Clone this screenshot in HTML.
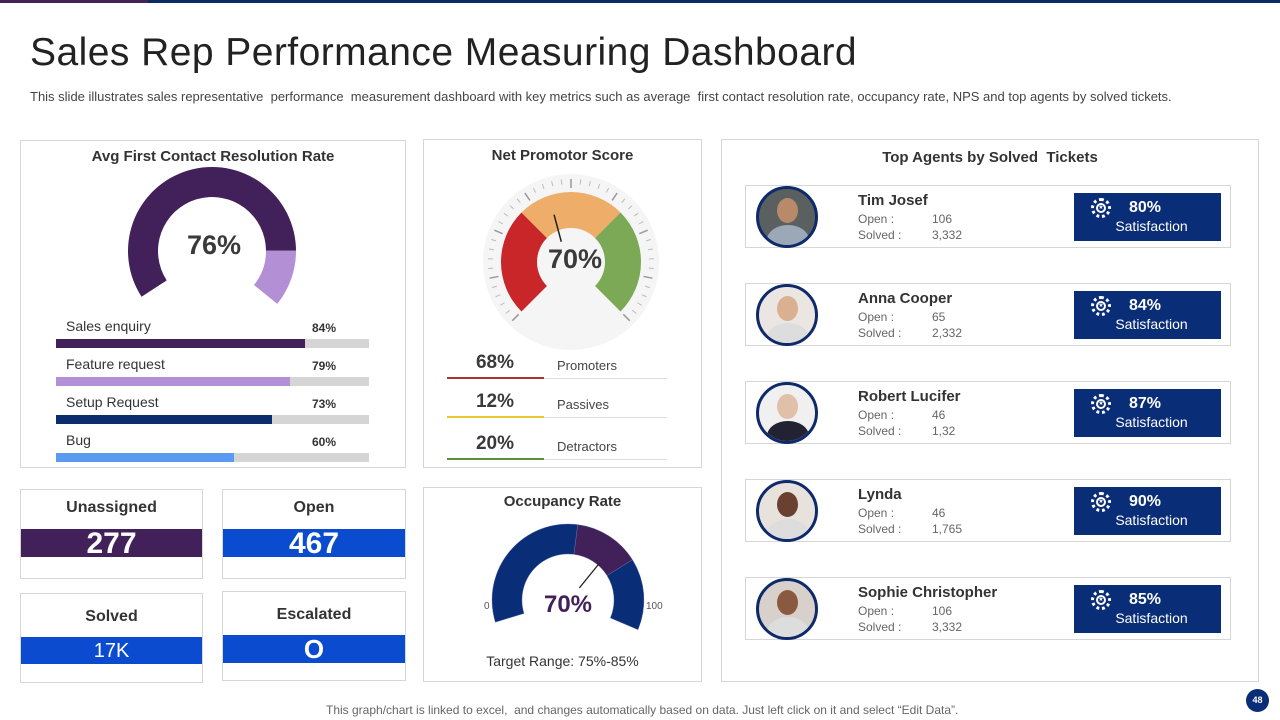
<!DOCTYPE html>
<html><head><meta charset="utf-8">
<style>
*{box-sizing:border-box;margin:0;padding:0}
body{width:1280px;height:720px;background:#fff;position:relative;overflow:hidden;font-family:"Liberation Sans",sans-serif;color:#333}
.abs{position:absolute}
.box{position:absolute;border:1px solid #d6d6d6;background:#fff}
.ttl{position:absolute;left:0;right:0;text-align:center;font-weight:bold;font-size:15px;color:#333}
.lbl{position:absolute;font-size:14px;color:#333}
.pct{position:absolute;font-size:12px;font-weight:bold;color:#333}
.track{position:absolute;height:9px;background:#d5d5d5}
.fill{position:absolute;left:0;top:0;height:9px}
.kpi-band{position:absolute;left:0;right:0;color:#fff;text-align:center;font-weight:bold}
.card{position:absolute;left:745px;width:486px;height:63px;border:1px solid #d6d6d6;background:#fff}
.av{position:absolute;left:10px;top:0px;width:62px;height:62px;border-radius:50%;border:3px solid #0f2a6b;overflow:hidden}
.nm{position:absolute;left:112px;top:6px;font-size:15px;font-weight:bold;color:#333}
.st{position:absolute;left:112px;font-size:12px;color:#666}
.sv{position:absolute;left:186px;font-size:12px;color:#666}
.badge{position:absolute;left:328px;top:7px;width:147px;height:48px;background:#0a2d78;color:#fff}
</style></head><body>
<div class="abs" style="left:0;top:0;width:148px;height:3px;background:#42245a"></div>
<div class="abs" style="left:148px;top:0;width:1132px;height:3px;background:#0a2a64"></div>
<div class="abs" style="left:30px;top:31px;font-size:39px;color:#222;letter-spacing:0.45px">Sales Rep Performance Measuring Dashboard</div>
<div class="abs" style="left:30px;top:89px;font-size:13px;color:#444">This slide illustrates sales representative&nbsp; performance&nbsp; measurement dashboard with key metrics such as average&nbsp; first contact resolution rate, occupancy rate, NPS and top agents by solved tickets.</div>

<!-- FCR panel -->
<div class="box" style="left:20px;top:140px;width:386px;height:328px">
  <div class="ttl" style="top:7px">Avg First Contact Resolution Rate</div>
</div>
<svg class="abs" id="fcrSvg" style="left:0;top:0" width="1280" height="720"></svg>
<div class="abs" id="fcrVal" style="left:162px;top:230px;width:104px;text-align:center;font-size:27px;font-weight:bold;color:#3a3a3a">76%</div>
<div id="fcrBars"></div>

<!-- NPS panel -->
<div class="box" style="left:423px;top:139px;width:279px;height:329px">
  <div class="ttl" style="top:7px">Net Promotor Score</div>
</div>
<svg class="abs" id="npsSvg" style="left:0;top:0" width="1280" height="720"></svg>
<div class="abs" style="left:530px;top:244px;width:90px;text-align:center;font-size:27px;font-weight:bold;color:#3a3a3a">70%</div>
<div id="npsLegend"></div>

<!-- KPI tiles -->
<div class="box" style="left:20px;top:489px;width:183px;height:90px">
  <div class="ttl" style="top:9px;font-size:16px">Unassigned</div>
  <div class="kpi-band" style="top:39px;height:28px;line-height:30px;background:#42215a;font-size:30px">277</div>
</div>
<div class="box" style="left:222px;top:489px;width:184px;height:90px">
  <div class="ttl" style="top:9px;font-size:16px">Open</div>
  <div class="kpi-band" style="top:39px;height:28px;line-height:30px;background:#0a4bd0;font-size:30px">467</div>
</div>
<div class="box" style="left:20px;top:593px;width:183px;height:90px">
  <div class="ttl" style="top:14px;font-size:16px">Solved</div>
  <div class="kpi-band" style="top:43px;height:27px;line-height:28px;background:#0a4bd0;font-size:20px;font-weight:normal">17K</div>
</div>
<div class="box" style="left:222px;top:591px;width:184px;height:90px">
  <div class="ttl" style="top:14px;font-size:16px">Escalated</div>
  <div class="kpi-band" style="top:43px;height:28px;line-height:29px;background:#0a4bd0;font-size:26px">O</div>
</div>

<!-- Occupancy -->
<div class="box" style="left:423px;top:487px;width:279px;height:195px">
  <div class="ttl" style="top:5px">Occupancy Rate</div>
  <div class="abs" style="left:0;right:0;top:165px;text-align:center;font-size:14px;color:#333">Target Range: 75%-85%</div>
  <div class="abs" style="left:60px;top:113px;font-size:10px;color:#555">0</div>
  <div class="abs" style="left:222px;top:113px;font-size:10px;color:#555">100</div>
</div>
<svg class="abs" id="occSvg" style="left:0;top:0" width="1280" height="720"></svg>
<div class="abs" style="left:528px;top:591px;width:80px;text-align:center;font-size:24px;font-weight:bold;color:#42215a">70%</div>

<!-- Agents -->
<div class="box" style="left:721px;top:139px;width:538px;height:543px">
  <div class="ttl" style="top:9px">Top Agents by Solved&nbsp; Tickets</div>
</div>
<div id="agents"></div>

<div class="abs" style="left:326px;top:703px;font-size:12px;color:#666">This graph/chart is linked to excel,&nbsp; and changes automatically based on data. Just left click on it and select “Edit Data”.</div>
<div class="abs" style="left:1246px;top:689px;width:23px;height:23px;border-radius:50%;background:#0a2d78;color:#fff;font-size:9px;font-weight:bold;text-align:center;line-height:23px">48</div>

<script>
// ---- data ----
const fcrValue = 76;
const fcrTarget = 90;
const fcrCats = ["Sales enquiry","Feature request","Setup Request","Bug"];
const fcrVals = [84,79,73,60];
const fcrColors = ["#42215a","#b38fd6","#0a2d6e","#5b9af0"];
const npsValue = 70;
const npsLabels = ["Promoters","Passives","Detractors"];
const npsVals = [68,12,20];
const npsLineColors = ["#b03030","#e8c830","#5b8f3a"];
const occValue = 70;
const occBreaks = [0,52,75,100];
const agentNames = ["Tim Josef","Anna Cooper","Robert Lucifer","Lynda","Sophie Christopher"];
const agentOpen = ["106","65","46","46","106"];
const agentSolved = ["3,332","2,332","1,32","1,765","3,332"];
const agentSat = [80,84,87,90,85];

const NS="http://www.w3.org/2000/svg";
function mk(svg,tag,attrs,name){const e=document.createElementNS(NS,tag);for(const k in attrs)e.setAttribute(k,attrs[k]);


svg.appendChild(e);return e;}
function pt(cx,cy,r,a){const t=a*Math.PI/180;return [cx+r*Math.sin(t),cy-r*Math.cos(t)];}
function arc(cx,cy,r0,r1,a0,a1){const p1=pt(cx,cy,r1,a0),p2=pt(cx,cy,r1,a1),p3=pt(cx,cy,r0,a1),p4=pt(cx,cy,r0,a0);const lg=(a1-a0)>180?1:0;
return `M${p1}A${r1},${r1} 0 ${lg} 1 ${p2}L${p3}A${r0},${r0} 0 ${lg} 0 ${p4}Z`;}

// FCR donut
const fs=document.getElementById('fcrSvg');
const fA=v=>-123+v*2.8;
mk(fs,'path',{d:arc(212,251,54,84,fA(0),fA(fcrValue)),fill:"#42215a"},'fcr-arc-value');
mk(fs,'path',{d:arc(212,251,54,84,fA(fcrValue),fA(fcrTarget)),fill:"#b38fd6"},'fcr-arc-remainder');
// bars
const fb=document.getElementById('fcrBars');
fcrCats.forEach((c,i)=>{const y=318+i*38;
 const l=document.createElement('div');l.className='lbl';l.style.left='66px';l.style.top=y+'px';l.textContent=c;
 
 
 fb.appendChild(l);
 const p=document.createElement('div');p.className='pct';p.style.left='312px';p.style.top=(y+3)+'px';p.textContent=fcrVals[i]+'%';
 
 
 fb.appendChild(p);
 const t=document.createElement('div');t.className='track';t.style.left='56px';t.style.top=(y+21)+'px';t.style.width='313px';
 
 
 const f=document.createElement('div');f.className='fill';f.style.width=(fcrVals[i]*2.96)+'px';f.style.background=fcrColors[i];
 
 
 t.appendChild(f);fb.appendChild(t);
});

// NPS gauge
const ns=document.getElementById('npsSvg');const cx=571,cy=262;
mk(ns,'circle',{cx:cx,cy:cy,r:88,fill:"#f5f5f5"},'nps-gauge-bg');
for(let a=-135;a<=135;a+=6.75){const big=(Math.round((a+135)/6.75)%5===0);const p1=pt(cx,cy,big?74:78,a),p2=pt(cx,cy,83,a);
 mk(ns,'line',{x1:p1[0],y1:p1[1],x2:p2[0],y2:p2[1],stroke:big?"#999":"#bbb","stroke-width":big?1.5:1},'nps-tick');}
mk(ns,'path',{d:arc(cx,cy,34,70,-135,-45),fill:"#c9262a"},'nps-arc-red');
mk(ns,'path',{d:arc(cx,cy,34,70,-45,45),fill:"#eeae6a"},'nps-arc-orange');
mk(ns,'path',{d:arc(cx,cy,34,70,45,135),fill:"#7ba955"},'nps-arc-green');
const nA=(npsValue-75)*3;
const q1=pt(cx-4,cy+1,22,nA),q2=pt(cx-4,cy+1,50,nA);
mk(ns,'line',{x1:q1[0],y1:q1[1],x2:q2[0],y2:q2[1],stroke:"#222","stroke-width":1.5},'nps-needle');
const nl=document.getElementById('npsLegend');
npsLabels.forEach((l,i)=>{const y=352+i*39+(i==2?3:0);
 const v=document.createElement('div');v.className='abs';v.style.cssText=`left:447px;top:${y}px;width:96px;text-align:center;font-size:19px;font-weight:bold;color:#3a3a3a`;v.textContent=npsVals[i]+'%';
 
 
 nl.appendChild(v);
 const t=document.createElement('div');t.className='abs';t.style.cssText=`left:557px;top:${y+6}px;font-size:13px;color:#444`;t.textContent=l;
 
 
 nl.appendChild(t);
 const g=document.createElement('div');g.className='abs';g.style.cssText=`left:447px;top:${y+26}px;width:220px;height:1px;background:#ddd`;
 
 
 nl.appendChild(g);
 const c=document.createElement('div');c.className='abs';c.style.cssText=`left:447px;top:${y+25}px;width:97px;height:2px;background:${npsLineColors[i]}`;
 
 
 nl.appendChild(c);
});

// Occupancy gauge
const os=document.getElementById('occSvg');const ox=568,oy=600;const oA=v=>-107+v*2.2;
const oc=["#0a2d78","#42215a","#0a2d78"];
for(let i=0;i<3;i++){mk(os,'path',{d:arc(ox,oy,46,76,oA(occBreaks[i]),oA(occBreaks[i+1])),fill:oc[i],stroke:"#6a7ab0","stroke-width":0.4},'occupancy-arc-segment');}
const r1=pt(ox,oy+2,18,oA(occValue)-8),r2=pt(ox,oy+2,50,oA(occValue)-8);
mk(os,'line',{x1:r1[0],y1:r1[1],x2:r2[0],y2:r2[1],stroke:"#222","stroke-width":1.3},'occupancy-needle');

// Agents
const ag=document.getElementById('agents');
const skin=["#b98a6a","#d9b090","#e0c0a8","#6a4030","#8a5a40"];
const bgc=["#5a5f60","#ece6e2","#f0f0f0","#e8e2dc","#d8d0ca"];
agentNames.forEach((n,i)=>{const y=185+i*98;
 const c=document.createElement('div');c.className='card';c.style.top=y+'px';
 
 
 c.innerHTML=`<div class="av" style="top:0;background:${bgc[i]}"><div style="position:absolute;left:18px;top:9px;width:21px;height:25px;border-radius:50%;background:${skin[i]}"></div><div style="position:absolute;left:8px;top:36px;width:42px;height:30px;border-radius:50% 50% 0 0;background:${i==0?'#9aa8b8':i==2?'#223':'#ddd'}"></div></div>
 <div class="nm">${n}</div>
 <div class="st" style="top:26px">Open :</div><div class="sv" style="top:26px">${agentOpen[i]}</div>
 <div class="st" style="top:42px">Solved :</div><div class="sv" style="top:42px">${agentSolved[i]}</div>
 <div class="badge">
  <div style="position:absolute;left:17px;top:5px;width:20px;height:20px;border-radius:50%;border:3px dotted #fff;background:#0a2d78"><div style="position:absolute;left:2px;top:2px;width:10px;height:10px;border-radius:50%;border:2px solid #fff;font-size:6px;color:#fff;text-align:center;line-height:7px">★</div></div>
  <div style="position:absolute;left:55px;top:6px;font-size:16px;font-weight:bold">${agentSat[i]}%</div>
  <div style="position:absolute;left:0;right:0;padding-left:8px;top:25px;text-align:center;font-size:14px">Satisfaction</div>
 </div>`;
 ag.appendChild(c);
});
</script>
</body></html>
